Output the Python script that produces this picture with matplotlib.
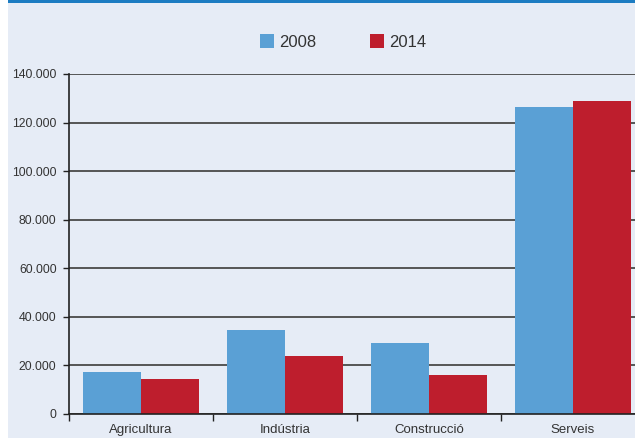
import matplotlib
matplotlib.use("Agg")
import matplotlib.pyplot as plt
from matplotlib.patches import Rectangle
from matplotlib.ticker import FuncFormatter, FixedLocator

# Data
sectors = ["Agricultura", "Indústria", "Construcció", "Serveis"]
years = ["2008", "2014"]
values_2008 = [17400, 34600, 29300, 126600]
values_2014 = [14600, 24000, 16200, 129000]
y_ticks = [0, 20000, 40000, 60000, 80000, 100000, 120000, 140000]

BG = "#E6ECF6"
BLUE = "#5AA0D5"
RED = "#BE1E2D"
TEXT = "#333333"

plt.rcParams["font.family"] = ["Liberation Sans", "DejaVu Sans"]

fig = plt.figure(figsize=(6.35, 4.38), dpi=100, facecolor=BG)

# white strip on the left and blue rule on top
fig.patches.append(Rectangle((0, 0), 8 / 635, 1, transform=fig.transFigure,
                             facecolor="white", edgecolor="none", zorder=0))
fig.patches.append(Rectangle((8 / 635, 1 - 2.5 / 438), 1, 2.5 / 438, transform=fig.transFigure,
                             facecolor="#1C7CC2", edgecolor="none", zorder=0))

ax = fig.add_axes([69 / 635, 24 / 438, 576 / 635, 340 / 438])
ax.set_facecolor(BG)

x = range(len(sectors))
w = 0.4
ax.bar([i - w / 2 for i in x], values_2008, width=w, color=BLUE, label=years[0], zorder=3)
ax.bar([i + w / 2 for i in x], values_2014, width=w, color=RED, label=years[1], zorder=3)

ax.set_xlim(-0.5, 3.5)
ax.set_ylim(0, 140000)

ax.set_yticks(y_ticks)
ax.yaxis.set_major_formatter(FuncFormatter(lambda v, p: f"{int(v):,}".replace(",", ".")))
ax.grid(axis="y", color="#555555", linewidth=1.4, zorder=1)

ax.set_xticks(list(x))
ax.set_xticklabels(sectors)
ax.xaxis.set_minor_locator(FixedLocator([-0.5, 0.5, 1.5, 2.5]))
ax.tick_params(axis="x", which="major", length=0, pad=7, labelsize=9.5, labelcolor=TEXT)
ax.tick_params(axis="x", which="minor", length=5, width=1, color="#222222", direction="out")
ax.tick_params(axis="y", length=4, width=1, color="#222222", pad=5, labelsize=8.8, labelcolor=TEXT)

for side in ["top", "right"]:
    ax.spines[side].set_visible(False)
for side in ["left", "bottom"]:
    ax.spines[side].set_color("#222222")
    ax.spines[side].set_linewidth(1.2)
    ax.spines[side].set_zorder(4)

leg = ax.legend(loc="center", bbox_to_anchor=(343 / 635, 1 - 42 / 438),
                bbox_transform=fig.transFigure, ncol=2, frameon=False,
                fontsize=12, handlelength=0.85, handleheight=0.85,
                handletextpad=0.3, columnspacing=3.2)
for t in leg.get_texts():
    t.set_color(TEXT)

fig.savefig("out.png", dpi=100, facecolor=BG)
